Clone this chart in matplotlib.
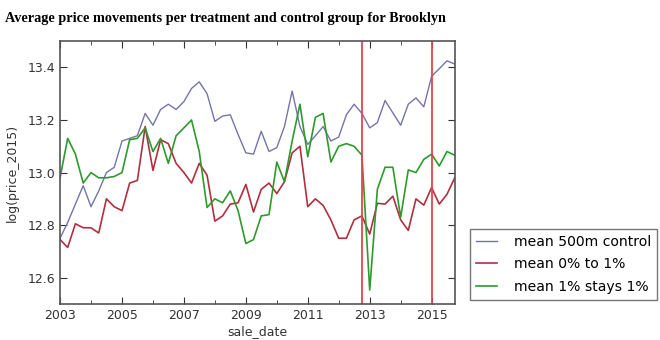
import pandas as pd
import matplotlib
matplotlib.use('Agg')
import matplotlib.pyplot as plt
import matplotlib.dates as mdates

# quarterly means, 2003Q1 .. 2015Q4
quarters = pd.date_range('2003-01-01', periods=52, freq='QS')

control = [12.75, 12.81, 12.88, 12.95, 12.87, 12.93, 13.00, 13.02, 13.12, 13.13,
           13.14, 13.225, 13.18, 13.24, 13.26, 13.24, 13.27, 13.32, 13.345, 13.30,
           13.195, 13.215, 13.22, 13.145, 13.075, 13.07, 13.157, 13.08, 13.095, 13.175,
           13.31, 13.175, 13.107, 13.14, 13.175, 13.12, 13.135, 13.22, 13.26, 13.225,
           13.17, 13.19, 13.274, 13.227, 13.18, 13.26, 13.284, 13.25, 13.366, 13.395,
           13.425, 13.413]

zero_to_one = [12.745, 12.715, 12.805, 12.79, 12.79, 12.77, 12.90, 12.87, 12.855, 12.96,
               12.97, 13.175, 13.008, 13.125, 13.11, 13.035, 13.00, 12.96, 13.035, 12.99,
               12.815, 12.835, 12.88, 12.885, 12.955, 12.85, 12.936, 12.96, 12.92, 12.965,
               13.075, 13.10, 12.87, 12.90, 12.875, 12.82, 12.75, 12.75, 12.82, 12.835,
               12.766, 12.883, 12.88, 12.91, 12.82, 12.78, 12.90, 12.876, 12.943, 12.88,
               12.917, 12.98]

stays_one = [12.98, 13.13, 13.07, 12.96, 13.00, 12.98, 12.98, 12.985, 13.00, 13.125,
             13.13, 13.17, 13.08, 13.13, 13.035, 13.14, 13.17, 13.20, 13.08, 12.867,
             12.90, 12.885, 12.93, 12.855, 12.73, 12.745, 12.835, 12.84, 13.04, 12.965,
             13.12, 13.26, 13.06, 13.21, 13.225, 13.04, 13.10, 13.11, 13.10, 13.066,
             12.553, 12.936, 13.02, 13.02, 12.83, 13.01, 13.00, 13.05, 13.07, 13.025,
             13.08, 13.066]

events = ['2012-10-01', '2015-01-01']
major_years = [2003, 2005, 2007, 2009, 2011, 2013, 2015]
minor_years = [2004, 2006, 2008, 2010, 2012, 2014]

fig = plt.figure(figsize=(6.6, 3.4), dpi=100)
ax = fig.add_axes([0.091, 0.106, 0.598, 0.773])

ax.plot(quarters, control, color='#7474aa', lw=1.0, label='mean 500m control')
ax.plot(quarters, zero_to_one, color='#b03040', lw=1.2, label='mean 0% to 1%')
ax.plot(quarters, stays_one, color='#2e9a2e', lw=1.2, label='mean 1% stays 1%')
for d in events:
    ax.axvline(pd.Timestamp(d), color='#e04848', lw=1.3)

ax.set_xlim(quarters[0], quarters[-1])
ax.set_ylim(12.5, 13.5)
ax.set_yticks([12.6, 12.8, 13.0, 13.2, 13.4])
ax.set_xticks([pd.Timestamp(f'{y}-01-01') for y in major_years])
ax.set_xticks([pd.Timestamp(f'{y}-01-01') for y in minor_years], minor=True)
ax.xaxis.set_major_formatter(mdates.DateFormatter('%Y'))
ax.tick_params(which='both', direction='in', top=True, right=True, labelsize=9, colors='#333333')
ax.tick_params(which='major', length=5)
ax.tick_params(which='minor', length=3)
for s in ax.spines.values():
    s.set_color('#555555')
    s.set_linewidth(1.2)

ax.set_xlabel('sale_date', fontsize=9, color='#333333', labelpad=2)
ax.set_ylabel('log(price_2015)', fontsize=9, color='#333333', labelpad=6)

ax.legend(loc='lower left', bbox_to_anchor=(1.02, -0.012), fontsize=10.1, frameon=True,
          fancybox=False, edgecolor='#555555', handlelength=1.5, handletextpad=1.2,
          borderpad=0.45, labelspacing=0.6)

fig.text(0.008, 0.965, 'Average price movements per treatment and control group for Brooklyn',
         family='Liberation Serif', weight='bold', fontsize=10.3, va='top')

fig.savefig('out.png', dpi=100)
